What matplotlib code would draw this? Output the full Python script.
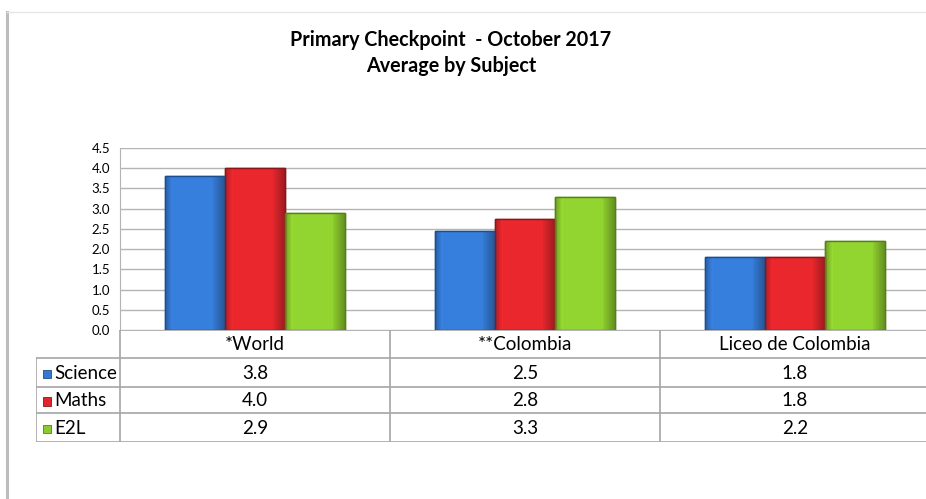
import matplotlib
matplotlib.use("Agg")
import matplotlib.pyplot as plt
import numpy as np
from matplotlib.colors import to_rgb
from matplotlib.patches import Rectangle
from matplotlib.lines import Line2D

# ── data ──────────────────────────────────────────────────────────────────────
CATEGORIES = ["*World", "**Colombia", "Liceo de Colombia"]
SERIES     = ["Science", "Maths", "E2L"]
SCIENCE    = [3.8, 2.45, 1.8]
MATHS      = [4.0, 2.75, 1.8]
E2L        = [2.9, 3.3, 2.2]
YTICKS     = [0.0, 0.5, 1.0, 1.5, 2.0, 2.5, 3.0, 3.5, 4.0, 4.5]

FACE = {"Science": "#3579d3", "Maths": "#e0262c", "E2L": "#8ccb2e"}
EDGE = {"Science": "#1d4d8e", "Maths": "#8c1518", "E2L": "#55801a"}
GRID = "#b4b4b4"

plt.rcParams.update({
    "font.family": ["Lato", "DejaVu Sans"],
    "font.size": 11,
})

W, H = 926, 499
DPI = 100
fig = plt.figure(figsize=(W / DPI, H / DPI), dpi=DPI)

def fx(px):
    return px / W

def fy(py):
    return 1 - py / H

# ── frame ─────────────────────────────────────────────────────────────────────
fig.add_artist(Line2D([fx(7), fx(7)], [fy(12), 0], color="#bdbdbd", lw=2.2))
fig.add_artist(Line2D([fx(7), 1], [fy(12), fy(12)], color="#e6e6e6", lw=1))

fig.text(fx(451), fy(40), "Primary Checkpoint  - October 2017", ha="center",
         va="center", fontsize=14.2, fontweight="bold")
fig.text(fx(451), fy(66), "Average by Subject", ha="center", va="center",
         fontsize=14.2, fontweight="bold")

# ── bar axes ──────────────────────────────────────────────────────────────────
AX_L, AX_T, AX_B = 120, 148, 330
CAT_W = 270
ax = fig.add_axes([fx(AX_L), fy(AX_B), fx(CAT_W * 3), (AX_B - AX_T) / H])
ax.set_xlim(-0.5, 2.5)
ax.set_ylim(0, 4.5)
ax.set_yticks(YTICKS)
ax.set_yticklabels([f"{v:.1f}" for v in YTICKS], fontsize=9.5)
ax.set_xticks([])
ax.tick_params(axis="y", length=0, pad=7)
for s in ["top", "right", "bottom"]:
    ax.spines[s].set_visible(False)
ax.spines["left"].set_color(GRID)
for v in YTICKS:
    ax.axhline(v, color=GRID, lw=1, zorder=0)

# horizontal shading profile for the bevelled Excel look
prof = np.concatenate([np.linspace(0.80, 1.08, 8), np.full(40, 1.05),
                       np.linspace(1.0, 0.72, 12)])

x = np.arange(len(CATEGORIES))
bw = 2 / 9
for i, (name, vals) in enumerate(zip(SERIES, [SCIENCE, MATHS, E2L])):
    bars = ax.bar(x + (i - 1) * bw, vals, bw, color=FACE[name],
                  edgecolor=EDGE[name], linewidth=1, zorder=3)
    base = np.array(to_rgb(FACE[name]))
    grad = np.clip(base[None, None, :] * prof[None, :, None], 0, 1)
    for b in bars:
        x0, y0 = b.get_x(), b.get_y()
        im = ax.imshow(grad, extent=[x0, x0 + b.get_width(), y0, y0 + b.get_height()],
                       aspect="auto", zorder=3.5, interpolation="bilinear")
        im.set_clip_path(b)
        ax.add_patch(Rectangle((x0, y0), b.get_width(), b.get_height(),
                               fill=False, edgecolor=EDGE[name], lw=1, zorder=4))
ax.set_xlim(-0.5, 2.5)
ax.set_ylim(0, 4.5)

# ── data table ────────────────────────────────────────────────────────────────
TB_L, ROW_Y = 36, [330, 358, 387, 413, 442]
lab_w = (AX_L - TB_L) / CAT_W
tax = fig.add_axes([fx(TB_L), fy(ROW_Y[-1]), fx(AX_L - TB_L + CAT_W * 3),
                    (ROW_Y[-1] - ROW_Y[0]) / H])
tax.set_xlim(-0.5 - lab_w, 2.5)
tax.set_ylim(ROW_Y[-1], ROW_Y[0])
tax.axis("off")

LC = "#a6a6a6"
x_left = -0.5 - lab_w
tax.plot([-0.5, 2.5], [ROW_Y[0], ROW_Y[0]], color=LC, lw=1.2)
for yy in ROW_Y[1:]:
    tax.plot([x_left, 2.5], [yy, yy], color=LC, lw=1.2)
tax.plot([x_left, x_left], [ROW_Y[1], ROW_Y[-1]], color=LC, lw=1.2)
for xx in [-0.5, 0.5, 1.5]:
    tax.plot([xx, xx], [ROW_Y[0], ROW_Y[-1]], color=LC, lw=1.2)

for j, cat in enumerate(CATEGORIES):
    tax.text(j, (ROW_Y[0] + ROW_Y[1]) / 2 + 1, cat, ha="center", va="center",
             fontsize=13.5)

for i, (name, vals) in enumerate(zip(SERIES, [SCIENCE, MATHS, E2L])):
    yc = (ROW_Y[i + 1] + ROW_Y[i + 2]) / 2 + 1
    tax.add_patch(Rectangle((x_left + 0.025, yc - 4), 0.032, 8.5,
                            facecolor=FACE[name], edgecolor=EDGE[name], lw=0.6))
    tax.text(x_left + 0.068, yc, name, ha="left", va="center", fontsize=13.5)
    for j, v in enumerate(vals):
        tax.text(j, yc, f"{v:.1f}", ha="center", va="center", fontsize=13.5)

fig.savefig("out.png", dpi=DPI)
